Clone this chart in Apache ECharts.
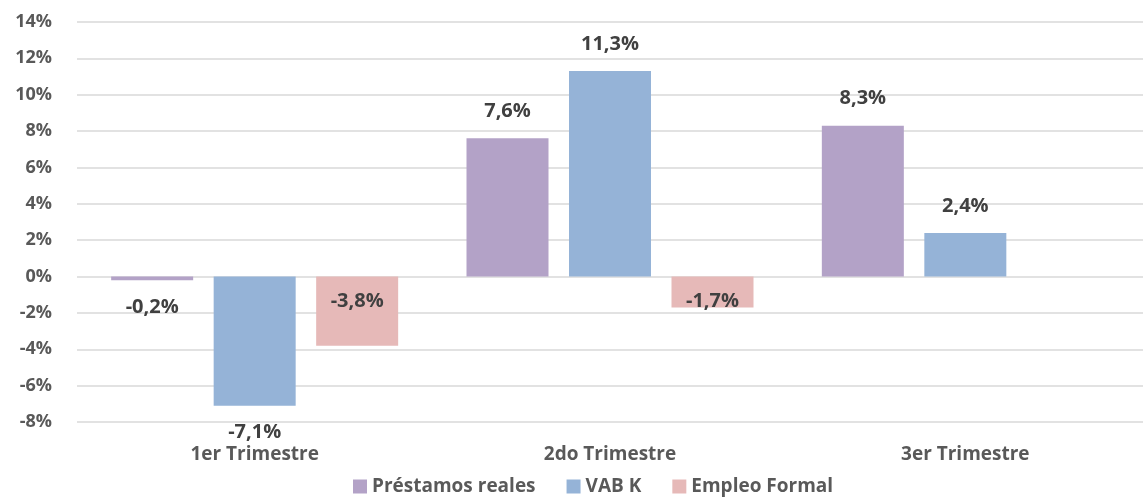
<!DOCTYPE html>
<html>
<head>
<meta charset="utf-8">
<script src="https://cdn.jsdelivr.net/npm/echarts@6/dist/echarts.min.js"></script>
<style>
  html, body { margin: 0; padding: 0; background: #fff; }
  #chart { width: 1143px; height: 500px; }
</style>
</head>
<body>
<div id="chart"></div>
<script>
// categorías y series (variación %)
const categorias = ['1er Trimestre', '2do Trimestre', '3er Trimestre']
const prestamos = [-0.2, 7.6, 8.3]
const vabK = [-7.1, 11.3, 2.4]
const empleo = [-3.8, -1.7, null]

const FONT = '"Open Sans", sans-serif'
const fmt = v => v.toFixed(1).replace('.', ',') + '%'

// etiqueta arriba si es positivo, abajo si es negativo
const conEtiqueta = arr => arr.map(v => ({
  value: v,
  label: { position: v < 0 ? 'bottom' : 'top' }
}))

const labelBase = {
  show: true, distance: 17,
  color: '#404040', fontWeight: 'bold', fontSize: 20, fontFamily: FONT,
  formatter: p => p.value == null ? '' : fmt(p.value)
}

const chart = echarts.init(document.getElementById('chart'))
chart.setOption({
  animation: false,
  grid: { left: 77, right: -14, top: 22, bottom: 78 },
  legend: {
    bottom: -1, left: 348, icon: 'rect', itemWidth: 14, itemHeight: 14, itemGap: 31,
    textStyle: { color: '#595959', fontWeight: 'bold', fontSize: 19, fontFamily: FONT }
  },
  xAxis: {
    type: 'category', data: categorias,
    axisLine: { show: false }, axisTick: { show: false },
    axisLabel: { color: '#595959', fontWeight: 'bold', fontSize: 19, fontFamily: FONT, margin: 23 }
  },
  yAxis: {
    type: 'value', min: -8, max: 14, interval: 2,
    axisLine: { show: false }, axisTick: { show: false },
    splitLine: { lineStyle: { color: '#d9d9d9', width: 1.5 } },
    axisLabel: {
      color: '#595959', fontWeight: 'bold', fontSize: 18, fontFamily: FONT, margin: 25,
      formatter: v => v + '%'
    }
  },
  series: [
    {
      name: 'Préstamos reales', type: 'bar', data: conEtiqueta(prestamos),
      barWidth: 82, barGap: '25%',
      itemStyle: { color: '#b3a2c7' }, label: labelBase
    },
    {
      name: 'VAB K', type: 'bar', data: conEtiqueta(vabK),
      barWidth: 82, barGap: '25%',
      itemStyle: { color: '#95b3d7' }, label: labelBase
    },
    {
      name: 'Empleo Formal', type: 'bar', data: empleo,
      barWidth: 82, barGap: '25%',
      itemStyle: { color: '#e6b9b8' },
      label: Object.assign({}, labelBase, { position: 'insideTop', distance: 15 })
    }
  ]
})
</script>
</body>
</html>
